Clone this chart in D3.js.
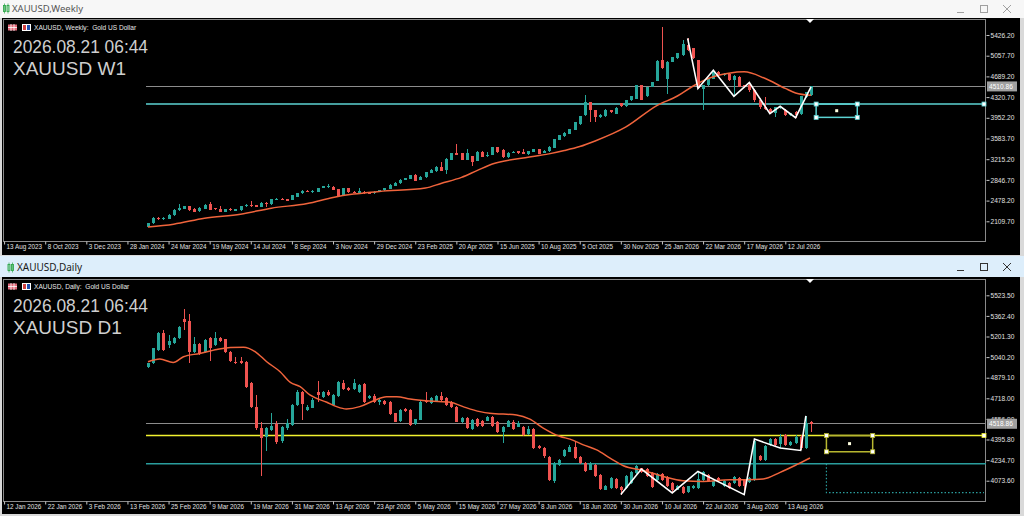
<!DOCTYPE html>
<html>
<head>
<meta charset="utf-8">
<script src="https://cdn.jsdelivr.net/npm/d3@7"></script>
<style>
  body { margin: 0; background: #d9d9d9; overflow: hidden; }
  svg { display: block; }
</style>
</head>
<body>
<svg width="1024" height="516"></svg>
<script>
// ---- weekly candles [open, high, low, close]
const weeklyCandles = [
  [2015,2085,2008,2076],[2076,2185,2068,2176],[2172,2185,2140,2148],[2150,2190,2140,2176],
  [2150,2232,2142,2224],[2219,2330,2212,2319],[2319,2426,2295,2344],[2332,2390,2320,2380],
  [2378,2390,2300,2308],[2337,2345,2275,2283],[2290,2365,2282,2355],[2332,2412,2325,2403],
  [2421,2452,2305,2314],[2344,2352,2312,2320],[2325,2378,2275,2283],[2280,2333,2272,2325],
  [2330,2350,2300,2308],[2300,2334,2292,2326],[2308,2388,2300,2380],[2380,2412,2372,2403],
  [2403,2475,2372,2380],[2400,2408,2357,2365],[2368,2447,2360,2439],[2440,2450,2365,2415],
  [2410,2513,2402,2505],[2493,2518,2485,2510],[2508,2516,2482,2490],[2500,2508,2470,2478],
  [2488,2578,2480,2570],[2546,2620,2540,2612],[2605,2662,2598,2654],[2654,2662,2632,2640],
  [2630,2662,2622,2654],[2640,2710,2632,2702],[2707,2738,2700,2730],[2718,2775,2710,2730],
  [2725,2735,2660,2667],[2676,2684,2540,2552],[2560,2710,2552,2702],[2695,2703,2616,2624],
  [2635,2643,2607,2615],[2620,2706,2612,2650],[2638,2646,2604,2612],[2615,2625,2598,2607],
  [2610,2648,2602,2640],[2640,2668,2632,2660],[2665,2708,2657,2700],[2690,2768,2682,2760],
  [2740,2808,2732,2800],[2785,2858,2777,2850],[2846,2888,2838,2880],[2862,2935,2854,2927],
  [2935,2950,2824,2832],[2846,2912,2838,2904],[2892,2989,2884,2981],[2975,3032,2967,3024],
  [3000,3091,2992,3083],[3083,3160,3003,3011],[3016,3234,2955,3226],[3202,3328,3194,3320],
  [3320,3488,3290,3298],[3320,3328,3194,3202],[3202,3400,3194,3320],[3273,3281,3100,3172],
  [3190,3353,3182,3345],[3345,3353,3254,3262],[3268,3340,3260,3290],[3292,3436,3284,3428],
  [3428,3436,3332,3340],[3380,3388,3242,3250],[3250,3341,3242,3333],[3330,3353,3322,3345],
  [3357,3365,3312,3320],[3340,3400,3302,3310],[3300,3365,3292,3357],[3345,3403,3337,3395],
  [3395,3403,3302,3310],[3330,3378,3322,3370],[3360,3448,3352,3440],[3420,3578,3412,3570],
  [3560,3650,3552,3642],[3620,3698,3612,3690],[3668,3758,3660,3750],[3740,3878,3732,3870],
  [3834,3985,3826,3977],[3995,4362,3987,4233],[4233,4241,3875,4085],[4085,4093,3880,3965],
  [3965,4016,3957,4008],[3977,4105,3969,4097],[4085,4093,4042,4050],[4025,4141,4017,4133],
  [4215,4223,4152,4160],[4160,4271,4152,4263],[4263,4343,4255,4335],[4294,4542,4286,4534],
  [4534,4542,4268,4276],[4335,4508,4327,4500],[4500,4598,4492,4590],[4608,4974,4600,4966],
  [4979,5575,4822,4830],[4634,4956,4383,4948],[4948,5035,4940,5027],[5010,5107,5002,5099],
  [5068,5337,5060,5265],[5247,5365,5150,5158],[5190,5198,5002,5010],[4979,4987,4473,4490],
  [4473,4538,4085,4530],[4530,4658,4522,4650],[4650,4800,4642,4790],[4770,4778,4703,4711],
  [4711,4748,4703,4740],[4740,4748,4609,4617],[4617,4708,4335,4700],[4680,4688,4492,4500],
  [4530,4538,4492,4500],[4534,4580,4420,4442],[4442,4460,4240,4263],[4263,4300,4100,4144],
  [4144,4330,4090,4100],[4100,4130,4025,4040],[4040,4152,3965,4144],[4120,4156,4112,4150],
  [4097,4105,3987,3995],[3995,4038,3987,4030],[4060,4068,3954,3995],[4013,4343,4005,4335],
  [4320,4418,4312,4410],[4357,4520,4349,4510]
];
// moving average [bar, price]
const weeklyMA = [
  [0,2010],[5,2058],[11,2165],[18,2237],[24,2344],[31,2426],[36,2534],[40,2594],[45,2641],
  [54,2702],[57,2784],[61,2891],[64,3011],[67,3130],[73,3238],[78,3310],[81,3369],[84,3440],
  [87,3540],[93,3790],[99,4170],[103,4340],[106,4514],[109,4651],[113,4745],[116,4770],
  [120,4655],[124,4475],[126,4395],[129,4353]
];
const weeklyZigzag = [[105,5365],[107,4473],[110,4800],[114,4335],[117,4580],[121,4025],[123,4156],[126,3954],[129,4501]];
const weeklyPriceTicks = [5426.20,5057.70,4689.20,4320.70,3952.20,3583.70,3215.20,2846.70,2478.20,2109.70];
const weeklyDateLabels = ["13 Aug 2023","8 Oct 2023","3 Dec 2023","28 Jan 2024","24 Mar 2024","19 May 2024",
  "14 Jul 2024","8 Sep 2024","3 Nov 2024","29 Dec 2024","23 Feb 2025","20 Apr 2025","15 Jun 2025",
  "10 Aug 2025","5 Oct 2025","30 Nov 2025","25 Jan 2026","22 Mar 2026","17 May 2026","12 Jul 2026"];
const weeklyBid = 4510.86;
const weeklyLevel = 4197;
const weeklyBox = [130, 138, 3960, 4197];

// ---- daily candles [open, high, low, close]
const dailyCandles = [
  [4965,4998,4955,4991],[4991,5115,4985,5108],[5095,5233,5090,5225],[5225,5251,5085,5095],
  [5134,5212,5108,5165],[5152,5195,5140,5186],[5186,5285,5180,5277],[5342,5414,5251,5316],
  [5321,5375,4991,5082],[5082,5199,5075,5139],[5139,5150,5060,5069],[5082,5185,5075,5173],
  [5191,5200,5009,5108],[5134,5233,5125,5186],[5186,5195,5160,5170],[5178,5185,5070,5077],
  [5077,5085,5000,5012],[5004,5040,4990,4996],[5009,5040,4988,4996],[5004,5010,4800,4809],
  [4835,4845,4640,4653],[4653,4744,4471,4484],[4484,4536,4108,4406],[4412,4495,4308,4484],
  [4471,4601,4460,4505],[4515,4540,4360,4380],[4386,4505,4370,4497],[4484,4560,4470,4523],
  [4510,4675,4500,4666],[4666,4780,4655,4765],[4765,4775,4549,4671],[4627,4665,4619,4653],
  [4645,4718,4640,4705],[4770,4853,4690,4744],[4731,4775,4720,4765],[4770,4780,4735,4744],
  [4666,4755,4655,4744],[4739,4853,4730,4843],[4835,4860,4780,4788],[4801,4810,4775,4783],
  [4791,4870,4785,4835],[4770,4830,4760,4822],[4827,4835,4680,4687],[4718,4745,4710,4739],
  [4739,4750,4685,4692],[4692,4712,4666,4705],[4697,4705,4665,4671],[4692,4700,4590,4596],
  [4600,4605,4530,4536],[4541,4635,4535,4627],[4635,4640,4612,4619],[4627,4635,4505,4510],
  [4518,4560,4512,4554],[4549,4700,4545,4692],[4697,4765,4680,4687],[4679,4730,4672,4718],
  [4697,4745,4690,4736],[4739,4770,4698,4705],[4718,4725,4660,4666],[4692,4700,4645,4653],
  [4653,4660,4530,4536],[4536,4575,4528,4567],[4562,4570,4478,4484],[4476,4555,4470,4549],
  [4554,4565,4495,4502],[4544,4552,4495,4502],[4544,4582,4538,4575],[4570,4578,4495,4502],
  [4536,4542,4445,4451],[4451,4505,4367,4497],[4497,4552,4490,4544],[4536,4545,4470,4476],
  [4497,4540,4490,4523],[4492,4500,4425,4432],[4440,4500,4432,4476],[4476,4485,4320,4328],
  [4347,4355,4320,4328],[4328,4335,4255,4263],[4258,4265,4075,4082],[4069,4220,4055,4211],
  [4198,4245,4190,4232],[4269,4325,4262,4315],[4302,4352,4295,4341],[4341,4380,4245,4250],
  [4258,4265,4205,4211],[4211,4218,4140,4147],[4160,4220,4155,4211],[4198,4205,4100,4108],
  [4121,4128,4000,4009],[4004,4042,3998,4035],[4017,4102,4010,4095],[4087,4095,4010,4017],
  [4024,4030,3965,4004],[4017,4115,4010,4108],[4056,4148,4050,4139],[4134,4200,4128,4191],
  [4170,4172,4132,4139],[4165,4172,4100,4108],[4134,4140,4018,4024],[4076,4135,4070,4128],
  [4126,4132,4075,4082],[4102,4110,4028,4035],[4056,4062,3978,4004],[4004,4042,3998,4035],
  [4024,4030,3972,3978],[3985,4036,3978,4030],[4017,4042,4010,4035],[4017,4150,4010,4087],
  [4082,4148,4075,4139],[4121,4128,4062,4069],[4035,4075,4028,4069],[4095,4102,4062,4069],
  [4030,4076,4024,4069],[4056,4062,4010,4017],[4056,4110,4050,4102],[4092,4100,4028,4035],
  [4082,4088,3965,4030],[4061,4102,4055,4095],[4082,4399,4075,4388],[4269,4278,4225,4232],
  [4232,4355,4225,4347],[4354,4410,4345,4399],[4399,4410,4345,4354],[4362,4440,4330,4414],
  [4432,4440,4345,4354],[4354,4388,4345,4380],[4367,4428,4360,4419],[4419,4428,4310,4328],
  [4328,4580,4320,4523],[4534,4544,4451,4519]
];
const dailyMA = [
  [0,5004],[2.3,5025],[4.9,4999],[6.9,5043],[10.1,5069],[13.4,5100],[16,5116],[18.6,5118],
  [20.9,5082],[23.1,5004],[25.7,4926],[27.7,4843],[29.6,4809],[31.5,4744],[34.8,4687],
  [36.7,4653],[38.6,4635],[41.2,4653],[43.8,4697],[46.4,4731],[48.4,4731],[51,4713],
  [54.9,4697],[58.8,4687],[61.3,4653],[64.6,4614],[66.5,4601],[71.7,4588],[74.3,4555],
  [76.9,4485],[80.2,4419],[82.1,4399],[84.7,4354],[87.3,4315],[89.9,4251],[92.5,4191],
  [96.4,4154],[100.3,4107],[104.1,4074],[108,4068],[113.2,4082],[116.5,4082],[119.7,4087],
  [123,4139],[126.2,4199],[128.8,4251]
];
const dailyZigzag = [[92,3965],[96,4165],[102,3978],[107,4146],[116,3965],[118,4399],[123,4329],[127,4310],[128,4580]];
const dailyPriceTicks = [5523.50,5362.40,5201.30,5040.20,4879.10,4718.00,4556.90,4395.80,4234.70,4073.60];
const dailyDateLabels = ["12 Jan 2026","22 Jan 2026","3 Feb 2026","13 Feb 2026","25 Feb 2026","9 Mar 2026",
  "19 Mar 2026","31 Mar 2026","13 Apr 2026","23 Apr 2026","5 May 2026","15 May 2026","27 May 2026",
  "8 Jun 2026","18 Jun 2026","30 Jun 2026","10 Jul 2026","22 Jul 2026","3 Aug 2026","13 Aug 2026"];
const dailyBid = 4518.86;
const dailyYellow = 4427;
const dailyTeal = 4206;
const dailyDotted = 3980;
const dailyBox = [132, 141, 4300, 4427];

const svg = d3.select("svg");
const upColor = "#26a69a", downColor = "#ef5350", maColor = "#f0643c";
const font = "'Liberation Sans', Arial, sans-serif";

// window chrome
function drawWindow(top, title, active) {
  const barH = active ? 21 : 18;
  svg.append("rect").attr("x", 0).attr("y", top).attr("width", 1024).attr("height", barH)
    .attr("fill", active ? "#ddeefb" : "#f7f7f7");
  const ix = active ? 8 : 3.5, iy = top + (active ? 8 : 5);
  [0, 3.5].forEach(dx => {
    svg.append("rect").attr("x", ix + dx).attr("y", iy + 0.5).attr("width", 2).attr("height", 6)
      .attr("fill", "none").attr("stroke", "#2fa84a").attr("stroke-width", 0.9);
    svg.append("line").attr("x1", ix + dx + 1).attr("x2", ix + dx + 1).attr("y1", iy - 1.5).attr("y2", iy + 8.5)
      .attr("stroke", "#2fa84a").attr("stroke-width", 0.7);
  });
  svg.append("text").attr("x", active ? 17 : 12).attr("y", top + (active ? 15 : 12))
    .attr("font-family", "'Noto Sans', sans-serif").attr("font-size", active ? 10 : 9.5)
    .attr("fill", active ? "#1a1a1a" : "#555").text(title);
  const c = active ? "#333" : "#a0a0a0", by = top + (active ? 11 : 9);
  svg.append("line").attr("x1", 957).attr("x2", 964).attr("y1", by + 3.5).attr("y2", by + 3.5).attr("stroke", c);
  svg.append("rect").attr("x", 980.5).attr("y", by - 3.5).attr("width", 7).attr("height", 7).attr("fill", "none").attr("stroke", c);
  svg.append("path").attr("d", `M1003,${by - 4}L1011,${by + 4}M1011,${by - 4}L1003,${by + 4}`).attr("stroke", c);
}

function drawPanel(p) {
  const g = svg.append("g");
  g.append("rect").attr("x", 2).attr("y", p.chartTop).attr("width", 1018).attr("height", p.chartBottom - p.chartTop).attr("fill", "#000");

  const x = d3.scaleLinear().domain([0, 129]).range([148, 811]);
  const y = d3.scaleLinear().domain(p.yDomain).range([p.bottom, p.top]);

  // frame
  g.append("rect").attr("x", 3.5).attr("y", p.top + 0.5).attr("width", 982).attr("height", p.bottom - p.top)
    .attr("fill", "none").attr("stroke", "#8a8a8a");

  // price axis
  const ay = g.append("g").attr("transform", "translate(986.5,0)")
    .call(d3.axisRight(y).tickValues(p.priceTicks).tickSize(3).tickFormat(d3.format(".2f")));
  ay.select(".domain").remove();
  ay.selectAll("line").attr("stroke", "#c8c8c8");
  ay.selectAll("text").attr("x", 4).attr("fill", "#e0e0e0").attr("font-family", font).attr("font-size", 6.6);

  // date axis
  const ax = g.append("g").attr("transform", `translate(0,${p.bottom + 0.5})`)
    .call(d3.axisBottom(x).tickValues(p.dateLabels.map((d, i) => -28 + 8 * i))
      .tickSize(3).tickFormat((d, i) => p.dateLabels[i]));
  ax.select(".domain").remove();
  ax.selectAll("line").attr("stroke", "#c8c8c8");
  ax.selectAll("text").attr("text-anchor", "start").attr("x", 2).attr("y", 3).attr("dy", "0.71em")
    .attr("fill", "#e0e0e0").attr("font-family", font).attr("font-size", 6.3);

  // header
  const hy = p.chartTop + 6;
  g.append("rect").attr("x", 8).attr("y", hy + 0.5).attr("width", 9).attr("height", 6).attr("fill", "#e06a7a");
  g.append("path").attr("d", `M11,${hy}V${hy + 7}M14,${hy}V${hy + 7}M8,${hy + 3.5}H17`).attr("stroke", "#ffffff").attr("stroke-width", 0.8);
  g.append("rect").attr("x", 22).attr("y", hy).attr("width", 9).attr("height", 7).attr("fill", "#ffffff");
  g.append("rect").attr("x", 23).attr("y", hy + 1).attr("width", 3).attr("height", 5).attr("fill", "#d04040");
  g.append("rect").attr("x", 27).attr("y", hy + 1).attr("width", 3).attr("height", 5).attr("fill", "#2050b0");
  g.append("text").attr("x", 34).attr("y", hy + 6).attr("fill", "#e8e8e8").attr("font-family", font)
    .attr("font-size", 6.6).attr("xml:space", "preserve").text(p.header);
  p.bigText.forEach((t, i) => {
    g.append("text").attr("x", 13).attr("y", p.chartTop + 35 + i * 22).attr("fill", "#cfcfcf")
      .attr("font-family", font).attr("font-size", 19).attr("textLength", i === 0 ? 135 : null)
      .attr("lengthAdjust", "spacingAndGlyphs").text(t);
  });

  const lineStart = x(0) - 2;
  // bid line
  g.append("line").attr("x1", lineStart).attr("x2", 986).attr("y1", y(p.bid)).attr("y2", y(p.bid))
    .attr("stroke", "#8c8c8c").attr("shape-rendering", "crispEdges");

  p.levels(g, x, y, lineStart);

  // candles
  const isUp = d => d[3] >= d[0];
  g.append("g").selectAll("line").data(p.candles).enter().append("line")
    .attr("x1", (d, i) => Math.round(x(i)) + 0.5).attr("x2", (d, i) => Math.round(x(i)) + 0.5)
    .attr("y1", d => y(d[1])).attr("y2", d => y(d[2]))
    .attr("stroke", d => isUp(d) ? upColor : downColor).attr("shape-rendering", "crispEdges");
  g.append("g").selectAll("rect").data(p.candles).enter().append("rect")
    .attr("x", (d, i) => Math.round(x(i)) - 1).attr("width", 3)
    .attr("y", d => y(Math.max(d[0], d[3])))
    .attr("height", d => Math.max(1, Math.abs(y(d[0]) - y(d[3]))))
    .attr("fill", d => isUp(d) ? upColor : downColor).attr("shape-rendering", "crispEdges");

  // moving average
  g.append("path").datum(p.ma)
    .attr("d", d3.line().x(d => x(d[0])).y(d => y(d[1])).curve(d3.curveMonotoneX))
    .attr("fill", "none").attr("stroke", maColor).attr("stroke-width", 1.5);

  // zigzag
  g.append("path").datum(p.zigzag)
    .attr("d", d3.line().x(d => x(d[0])).y(d => y(d[1])))
    .attr("fill", "none").attr("stroke", "#ffffff").attr("stroke-width", 1.6);

  // bid label
  g.append("rect").attr("x", 987).attr("y", y(p.bid) - 5).attr("width", 30).attr("height", 10).attr("fill", "#a0a0a0");
  g.append("text").attr("x", 989).attr("y", y(p.bid) + 2.5).attr("fill", "#ffffff")
    .attr("font-family", font).attr("font-size", 6.6).text(d3.format(".2f")(p.bid));

  // shift marker
  const sx = x(129) - 1;
  g.append("path").attr("d", `M${sx - 4},${p.top}L${sx + 4},${p.top}L${sx},${p.top + 4}Z`).attr("fill", "#ffffff");
}

function handle(g, cx, cy, color) {
  g.append("rect").attr("x", cx - 2).attr("y", cy - 2).attr("width", 4).attr("height", 4)
    .attr("fill", "#ffffff").attr("stroke", color).attr("stroke-width", 0.8);
}

function boxShape(g, x, y, box, color) {
  const [i0, i1, lo, hi] = box;
  g.append("rect").attr("x", x(i0)).attr("y", y(hi)).attr("width", x(i1) - x(i0)).attr("height", y(lo) - y(hi))
    .attr("fill", "none").attr("stroke", color).attr("stroke-width", 1.5);
  [[i0, hi], [i1, hi], [i0, lo], [i1, lo]].forEach(c => handle(g, x(c[0]), y(c[1]), color));
  g.append("rect").attr("x", (x(i0) + x(i1)) / 2 - 1.5).attr("y", (y(lo) + y(hi)) / 2 - 1.5)
    .attr("width", 3).attr("height", 3).attr("fill", "#ffffe0");
}

svg.append("rect").attr("width", 1024).attr("height", 516).attr("fill", "#d9d9d9");

drawWindow(0, "XAUUSD,Weekly", false);
drawPanel({
  chartTop: 18, chartBottom: 255, top: 19, bottom: 241, yDomain: [1759, 5711],
  candles: weeklyCandles, ma: weeklyMA, zigzag: weeklyZigzag,
  priceTicks: weeklyPriceTicks, dateLabels: weeklyDateLabels, bid: weeklyBid,
  header: "XAUUSD, Weekly:  Gold US Dollar", bigText: ["2026.08.21 06:44", "XAUUSD W1"],
  levels: (g, x, y, x0) => {
    g.append("line").attr("x1", x0).attr("x2", 984).attr("y1", y(weeklyLevel)).attr("y2", y(weeklyLevel))
      .attr("stroke", "#5cd3d3").attr("stroke-width", 1.6);
    boxShape(g, x, y, weeklyBox, "#5cd3d3");
    handle(g, 984, y(weeklyLevel), "#5cd3d3");
  }
});

drawWindow(256, "XAUUSD,Daily", true);
drawPanel({
  chartTop: 277, chartBottom: 514, top: 279, bottom: 501, yDomain: [3915, 5651],
  candles: dailyCandles, ma: dailyMA, zigzag: dailyZigzag,
  priceTicks: dailyPriceTicks, dateLabels: dailyDateLabels, bid: dailyBid,
  header: "XAUUSD, Daily:  Gold US Dollar", bigText: ["2026.08.21 06:44", "XAUUSD D1"],
  levels: (g, x, y, x0) => {
    g.append("line").attr("x1", x0).attr("x2", 986).attr("y1", y(dailyTeal)).attr("y2", y(dailyTeal))
      .attr("stroke", "#2a9d9d").attr("stroke-width", 1.4);
    g.append("path")
      .attr("d", `M${x(dailyBox[0])},${y(dailyTeal)}V${y(dailyDotted)}H984`)
      .attr("fill", "none").attr("stroke", "#2a9d9d").attr("stroke-width", 1.2).attr("stroke-dasharray", "1.5,2");
    g.append("line").attr("x1", x0).attr("x2", 984).attr("y1", y(dailyYellow)).attr("y2", y(dailyYellow))
      .attr("stroke", "#f2f230").attr("stroke-width", 1.6);
    boxShape(g, x, y, dailyBox, "#b8b830");
    handle(g, 984, y(dailyYellow), "#f2f230");
  }
});
</script>
</body>
</html>
